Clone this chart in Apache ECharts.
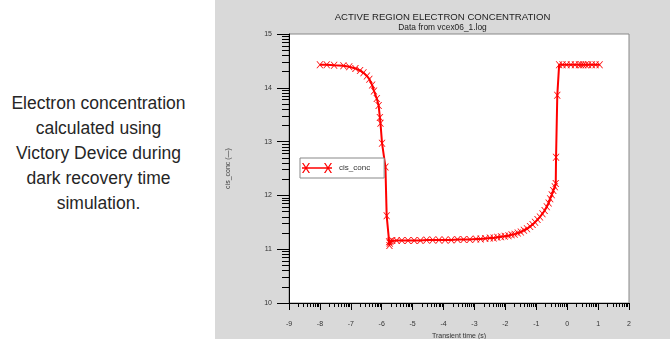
<!DOCTYPE html>
<html>
<head>
<meta charset="utf-8">
<script src="https://cdn.jsdelivr.net/npm/echarts@6/dist/echarts.min.js"></script>
<style>
  body { margin: 0; width: 670px; height: 339px; overflow: hidden; background: #fff; }
  #note {
    position: absolute; left: 0; top: 91px; width: 197px;
    font-family: 'Liberation Sans', Arial, sans-serif; font-size: 17.5px;
    line-height: 25px; color: #262626; text-align: center;
  }
  #chart { position: absolute; left: 215px; top: 0; width: 455px; height: 339px; background: #d9d9d9; }
</style>
</head>
<body>
<div id="note">Electron concentration<br>calculated using<br>Victory Device during<br>dark recovery time<br>simulation.</div>
<div id="chart"></div>
<script>
// log10 of transient time (s)
var timeLog = [
  -8.00, -7.78, -7.54, -7.24, -7.05, -6.85, -6.70, -6.59, -6.48, -6.40,
  -6.31, -6.25, -6.16, -6.10, -6.06, -6.04, -5.99, -5.88, -5.84, -5.76,
  -5.75, -5.74, -5.72, -5.66, -5.52, -5.35, -5.15, -4.95, -4.75, -4.55,
  -4.35, -4.15, -3.95, -3.75, -3.55, -3.35, -3.15, -2.95, -2.80, -2.65,
  -2.50, -2.38, -2.26, -2.14, -2.02, -1.90, -1.80, -1.70, -1.60, -1.50,
  -1.40, -1.30, -1.20, -1.12, -1.04, -0.96, -0.88, -0.80, -0.73, -0.66,
  -0.60, -0.55, -0.50, -0.45, -0.40, -0.37, -0.36, -0.32, -0.26, -0.15,
  -0.02, 0.12, 0.25, 0.38, 0.45, 0.52, 0.60, 0.68, 0.80, 0.92, 1.05
];
// cis_conc (log10 of concentration)
var cisConc = [
  14.43, 14.43, 14.42, 14.41, 14.39, 14.36, 14.32, 14.28, 14.22, 14.16,
  14.05, 13.94, 13.80, 13.67, 13.45, 13.34, 12.97, 12.53, 11.62, 11.14,
  11.07, 11.11, 11.15, 11.16, 11.16, 11.16, 11.16, 11.16, 11.16, 11.17,
  11.17, 11.17, 11.17, 11.17, 11.18, 11.18, 11.18, 11.19, 11.19, 11.20,
  11.21, 11.21, 11.22, 11.23, 11.24, 11.25, 11.27, 11.28, 11.30, 11.32,
  11.35, 11.38, 11.42, 11.46, 11.50, 11.55, 11.60, 11.66, 11.72, 11.79,
  11.86, 11.94, 12.01, 12.09, 12.16, 12.22, 12.71, 13.86, 14.43, 14.43,
  14.43, 14.43, 14.43, 14.43, 14.43, 14.43, 14.43, 14.43, 14.43, 14.43, 14.43
];

var xTicks = [-9, 2];
var yTicks = [10, 15];
// decade minor tick offsets (log10 of 2..9)
var logSteps = [0.301, 0.477, 0.602, 0.699, 0.778, 0.845, 0.903, 0.954];

function minorTicks(lo, hi) {
  var out = [];
  for (var d = lo; d < hi; d++) {
    logSteps.forEach(function (s) { out.push(+(d + s).toFixed(3)); });
  }
  return out;
}

var points = timeLog.map(function (t, i) { return [t, cisConc[i]]; });

var crossPath = 'path://M0,0L1.4,0L10,10L8.6,10ZM8.6,0L10,0L1.4,10L0,10Z';
var legendPath = 'path://M0,4.3L30,4.3L30,5.7L0,5.7Z' +
  'M0,0L1.4,0L8,10L6.6,10ZM6.6,0L8,0L1.4,10L0,10Z' +
  'M22,0L23.4,0L30,10L28.6,10ZM28.6,0L30,0L23.4,10L22,10Z';

var font = 'Liberation Sans';
var chart = echarts.init(document.getElementById('chart'));

chart.setOption({
  animation: false,
  backgroundColor: '#d9d9d9',
  title: {
    text: 'ACTIVE REGION ELECTRON CONCENTRATION',
    subtext: 'Data from vcex06_1.log',
    left: 'center',
    top: 7,
    itemGap: 2,
    textStyle: { fontFamily: font, fontSize: 9.6, fontWeight: 'normal', color: '#222' },
    subtextStyle: { fontFamily: font, fontSize: 8.4, color: '#222' }
  },
  legend: {
    data: [{ name: 'cis_conc', icon: legendPath }],
    left: 85,
    top: 158,
    padding: [5, 14, 5, 2],
    itemWidth: 30,
    itemHeight: 10,
    backgroundColor: '#fff',
    borderColor: '#888',
    borderWidth: 1,
    itemStyle: { borderWidth: 0 },
    textStyle: { fontFamily: font, fontSize: 8, color: '#333', padding: [0, 0, 0, 2] }
  },
  grid: {
    left: 74, right: 41, top: 34, bottom: 36,
    outerBoundsMode: 'none',
    containLabel: false,
    show: true, backgroundColor: '#fff', borderColor: '#888', borderWidth: 1
  },
  xAxis: [{
    type: 'value',
    position: 'bottom',
    min: xTicks[0], max: xTicks[1], interval: 1,
    name: 'Transient time (s)',
    nameLocation: 'middle',
    nameGap: 30,
    nameTextStyle: { fontFamily: font, fontSize: 7, color: '#333' },
    axisLine: { onZero: false, lineStyle: { color: '#000', width: 1 } },
    axisTick: { length: 7, lineStyle: { color: '#000' } },
    axisLabel: { margin: 18, fontFamily: font, fontSize: 7, color: '#333' },
    splitLine: { show: false }
  }, {
    type: 'value',
    position: 'bottom',
    min: xTicks[0], max: xTicks[1],
    axisLine: { show: false, onZero: false },
    axisTick: { show: true, length: 4, customValues: minorTicks(xTicks[0], xTicks[1]), lineStyle: { color: '#000' } },
    axisLabel: { show: false },
    splitLine: { show: false }
  }],
  yAxis: [{
    type: 'value',
    position: 'left',
    min: yTicks[0], max: yTicks[1], interval: 1,
    name: 'cis_conc (\u2014)',
    nameLocation: 'middle',
    nameGap: 57,
    nameTextStyle: { fontFamily: font, fontSize: 7, color: '#333' },
    axisLine: { onZero: false, lineStyle: { color: '#000', width: 1 } },
    axisTick: { length: 12, lineStyle: { color: '#000' } },
    axisLabel: { margin: 17, fontFamily: font, fontSize: 7, color: '#333' },
    splitLine: { show: false }
  }, {
    type: 'value',
    position: 'left',
    min: yTicks[0], max: yTicks[1],
    axisLine: { show: false, onZero: false },
    axisTick: { show: true, length: 7, customValues: minorTicks(yTicks[0], yTicks[1]), lineStyle: { color: '#000' } },
    axisLabel: { show: false },
    splitLine: { show: false }
  }],
  series: [{
    name: 'cis_conc',
    type: 'line',
    data: points,
    showAllSymbol: true,
    symbol: crossPath,
    symbolSize: 7,
    lineStyle: { color: '#ff0000', width: 2 },
    itemStyle: { color: '#ff0000' }
  }]
});
</script>
</body>
</html>
